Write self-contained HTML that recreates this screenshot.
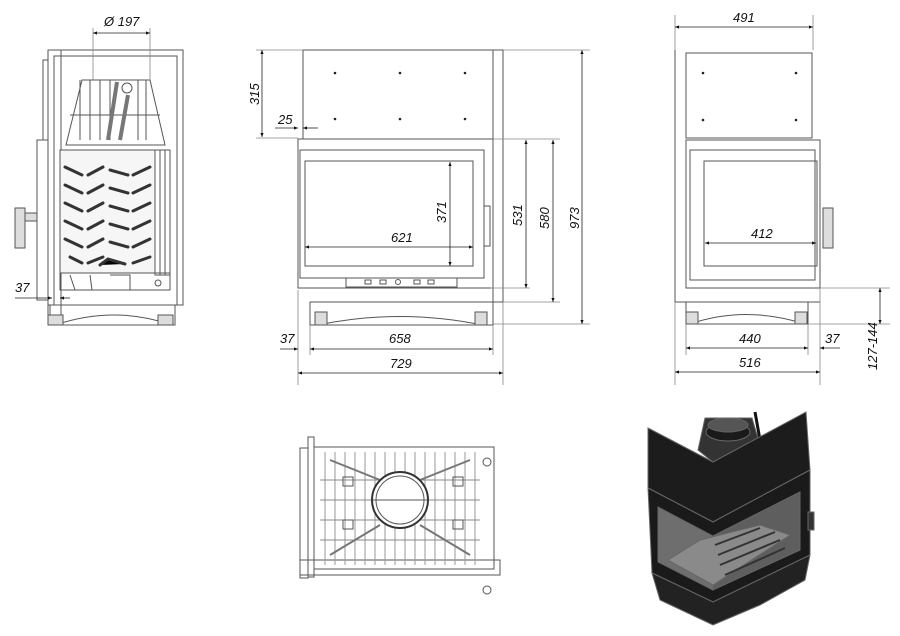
<!DOCTYPE html>
<html><head><meta charset="utf-8"><style>
html,body{margin:0;padding:0;background:#fff;}
svg{display:block}
text{font-family:"Liberation Sans",sans-serif;font-style:italic;font-size:13px;fill:#111}
</style></head><body>
<svg width="900" height="636" viewBox="0 0 900 636" xmlns="http://www.w3.org/2000/svg">
<defs>
<marker id="a" viewBox="0 0 10 10" refX="10" refY="5" markerWidth="7" markerHeight="5" orient="auto-start-reverse"><path d="M0,1 L10,5 L0,9z" fill="#111"/></marker>
</defs>
<g fill="none" stroke="#555" stroke-width="1">
<!-- LEFT VIEW -->
<rect x="48" y="50" width="135" height="255"/>
<rect x="54" y="56" width="123" height="249"/>
<rect x="43" y="60" width="5" height="80"/>
<rect x="37" y="140" width="11" height="160"/>
<rect x="48" y="50" width="13" height="270"/>
<path d="M66 145 L82 80 L150 80 L165 145z"/>
<path d="M80 80 V140 M90 80 V140 M100 80 V140 M110 80 V140 M138 80 V140 M146 80 V140 M70 115 H160"/>
<path d="M117 82 L108 140 M128 95 L120 140" stroke="#777" stroke-width="4"/>
<circle cx="127" cy="88" r="5"/>
<rect x="60" y="150" width="95" height="123" fill="#f6f6f6"/>
<rect x="155" y="150" width="15" height="125"/>
<path d="M160 150 V275 M165 150 V275"/>
<rect x="60" y="273" width="110" height="17"/>
<path d="M70 275 L75 290 M90 275 L92 290 M110 275 H130 V290"/>
<rect x="50" y="305" width="125" height="20"/>
<path d="M55 325 Q115 305 172 325"/>
<rect x="48" y="315" width="15" height="10" fill="#ddd"/>
<rect x="158" y="315" width="15" height="10" fill="#ddd"/>
<rect x="15" y="208" width="10" height="40" fill="#ddd"/>
<rect x="25" y="213" width="12" height="8" fill="#ddd"/>
<circle cx="158" cy="283" r="3"/>
</g>
<g stroke="#333" stroke-width="3" stroke-linecap="round">
<path d="M65 167 L82 175 M88 175 L103 167 M110 170 L128 175 M133 175 L150 167"/>
<path d="M65 185 L82 193 M88 193 L103 185 M110 188 L128 193 M133 193 L150 185"/>
<path d="M65 203 L82 211 M88 211 L103 203 M110 206 L128 211 M133 211 L150 203"/>
<path d="M65 221 L82 229 M88 229 L103 221 M110 224 L128 229 M133 229 L150 221"/>
<path d="M65 239 L82 247 M88 247 L103 239 M110 242 L128 247 M133 247 L150 239"/>
<path d="M70 257 L82 263 M88 263 L103 257 M100 265 L108 259 L125 264 M133 263 L150 257"/>
</g>
<g fill="#222">
<circle cx="335" cy="73" r="1.3"/><circle cx="400" cy="73" r="1.3"/><circle cx="465" cy="73" r="1.3"/>
<circle cx="335" cy="119" r="1.3"/><circle cx="400" cy="119" r="1.3"/><circle cx="465" cy="119" r="1.3"/>
<circle cx="703" cy="73" r="1.3"/><circle cx="796" cy="73" r="1.3"/><circle cx="703" cy="120" r="1.3"/><circle cx="796" cy="120" r="1.3"/>
</g>
<g fill="none" stroke="#555" stroke-width="1">
<!-- FRONT VIEW -->
<rect x="303" y="50" width="190" height="89"/>
<rect x="493" y="50" width="10" height="252"/>
<rect x="298" y="139" width="195" height="149"/>
<rect x="300" y="150" width="184" height="128"/>
<rect x="305" y="161" width="168" height="105"/>
<rect x="346" y="278" width="111" height="9"/>
<rect x="484" y="206" width="6" height="40"/>
<rect x="310" y="302" width="183" height="23"/>
<path d="M318 325 Q400 308 482 325"/>
<rect x="315" y="312" width="12" height="13" fill="#ddd"/>
<rect x="475" y="312" width="12" height="13" fill="#ddd"/>
<rect x="365" y="280" width="6" height="4"/><rect x="380" y="280" width="6" height="4"/><circle cx="398" cy="282" r="2.5"/><rect x="414" y="280" width="6" height="4"/><rect x="428" y="280" width="6" height="4"/>
<!-- RIGHT VIEW -->
<path d="M675 50 V302 H820"/>
<rect x="686" y="53" width="126" height="85"/>
<rect x="686" y="140" width="134" height="148"/>
<rect x="690" y="150" width="125" height="130"/>
<rect x="704" y="161" width="113" height="105"/>
<rect x="823" y="208" width="10" height="40" fill="#ddd"/>
<rect x="686" y="302" width="122" height="22"/>
<path d="M690 324 Q745 305 805 324"/>
<rect x="686" y="312" width="12" height="12" fill="#ddd"/><rect x="795" y="312" width="12" height="12" fill="#ddd"/>
<!-- BOTTOM VIEW -->
<rect x="300" y="448" width="8" height="130"/>
<rect x="308" y="437" width="6" height="140"/>
<rect x="314" y="447" width="180" height="122"/>
<rect x="300" y="560" width="200" height="15"/>
<path d="M325 452 V565 M335 452 V565 M345 452 V565 M355 452 V565 M365 452 V565 M375 452 V565 M385 452 V565 M395 452 V565 M405 452 V565 M415 452 V565 M425 452 V565 M435 452 V565 M445 452 V565 M455 452 V565 M465 452 V565 M475 452 V565" stroke="#999"/>
<path d="M320 480 H480 M320 500 H480 M320 520 H480 M320 540 H480" stroke="#888"/>
<path d="M330 460 L380 480 M470 460 L420 480 M330 555 L380 525 M470 555 L420 525" stroke="#777" stroke-width="2"/>
<circle cx="400" cy="500" r="28" fill="#fff" stroke="#333" stroke-width="2"/>
<circle cx="400" cy="500" r="24"/>
<path d="M372 500 H428"/>
<rect x="343" y="477" width="10" height="9"/><rect x="453" y="477" width="10" height="9"/><rect x="343" y="520" width="10" height="9"/><rect x="453" y="520" width="10" height="9"/>
<circle cx="487" cy="462" r="4"/><circle cx="487" cy="590" r="4"/>
</g>
<!-- ISO VIEW -->
<g stroke="#666" stroke-width="1">
<polygon points="698,450 705,418 752,418 760,445 713,462" fill="#333"/>
<ellipse cx="728" cy="432" rx="22" ry="9" fill="#1a1a1a"/>
<ellipse cx="728" cy="425" rx="20" ry="7" fill="#555"/>
<path d="M755 412 L760 440" stroke="#111" stroke-width="3"/>
<polygon points="648,428 713,462 806,412 810,470 713,522 648,488" fill="#1c1c1c"/>
<polygon points="648,488 713,522 810,470 810,555 713,602 652,573" fill="#1a1a1a"/>
<polygon points="658,507 713,536 713,590 658,562" fill="#6e6e6e"/>
<polygon points="713,536 800,492 800,550 713,590" fill="#5e5e5e"/>
<polygon points="668,560 700,540 760,525 790,535 713,585" fill="#8a8a8a"/>
<path d="M715 545 L760 528 M718 555 L775 532 M720 565 L780 540 M725 575 L785 548" stroke="#333" stroke-width="2"/>
<polygon points="652,573 713,602 810,555 805,580 760,605 713,625 660,600" fill="#222"/>
<rect x="808" y="512" width="6" height="18" fill="#333"/>
</g>
<!-- DIMENSIONS -->
<g stroke="#222" stroke-width="0.8" fill="none">
<path d="M93 28 V80 M150 28 V80" stroke="#888"/>
<path d="M93 33 H150" marker-start="url(#a)" marker-end="url(#a)"/>
<path d="M36 298 H52" marker-end="url(#a)"/><path d="M15 298 H36" /><path d="M60 298 H70" marker-start="url(#a)"/>
<path d="M256 50 H303 M256 138 H298" stroke="#888"/>
<path d="M262 50 V137" marker-start="url(#a)" marker-end="url(#a)"/>
<path d="M275 128 H298" marker-end="url(#a)"/><path d="M303 128 H318" marker-start="url(#a)"/>
<path d="M493 139 H560 M490 288 H530 M503 302 H560 M493 324 H590" stroke="#888"/>
<path d="M526 140 V288" marker-start="url(#a)" marker-end="url(#a)"/>
<path d="M553 140 V302" marker-start="url(#a)" marker-end="url(#a)"/>
<path d="M582 50 V324" marker-start="url(#a)" marker-end="url(#a)"/>
<path d="M503 50 H590" stroke="#888"/>
<path d="M450 162 V266" marker-start="url(#a)" marker-end="url(#a)"/>
<path d="M305 247 H473" marker-start="url(#a)" marker-end="url(#a)"/>
<path d="M298 290 V385 M310 325 V355 M493 325 V355 M503 302 V385" stroke="#888"/>
<path d="M280 349 H298" marker-end="url(#a)"/>
<path d="M310 349 H493" marker-start="url(#a)" marker-end="url(#a)"/>
<path d="M298 373 H503" marker-start="url(#a)" marker-end="url(#a)"/>
<path d="M675 15 V50 M813 15 V50 M675 302 V385 M686 324 V355 M808 324 V355 M820 288 V385" stroke="#888"/>
<path d="M675 27 H813" marker-start="url(#a)" marker-end="url(#a)"/>
<path d="M705 243 H816" marker-start="url(#a)" marker-end="url(#a)"/>
<path d="M686 348 H808" marker-start="url(#a)" marker-end="url(#a)"/>
<path d="M820 348 H840" marker-start="url(#a)"/>
<path d="M675 372 H820" marker-start="url(#a)" marker-end="url(#a)"/>
<path d="M820 288 H890 M808 324 H890" stroke="#888"/>
<path d="M880 288 V324" marker-start="url(#a)" marker-end="url(#a)"/>
</g>
<g>
<text x="104" y="26">Ø 197</text>
<text x="15" y="292">37</text>
<text transform="translate(259,105) rotate(-90)">315</text>
<text x="278" y="124">25</text>
<text transform="translate(522,226) rotate(-90)">531</text>
<text transform="translate(549,229) rotate(-90)">580</text>
<text transform="translate(579,229) rotate(-90)">973</text>
<text transform="translate(446,223) rotate(-90)">371</text>
<text x="391" y="242">621</text>
<text x="280" y="343">37</text>
<text x="389" y="343">658</text>
<text x="390" y="368">729</text>
<text x="733" y="22">491</text>
<text x="751" y="238">412</text>
<text x="739" y="343">440</text>
<text x="825" y="343">37</text>
<text x="739" y="367">516</text>
<text transform="translate(877,370) rotate(-90)">127-144</text>
</g>
</svg>
</body></html>
